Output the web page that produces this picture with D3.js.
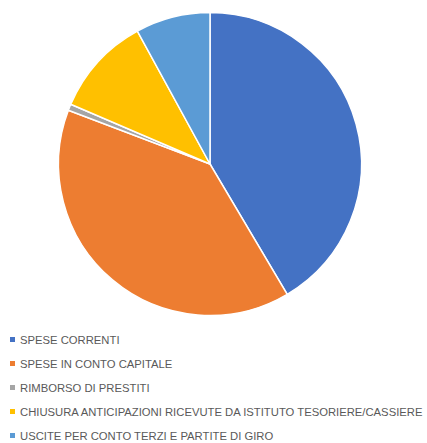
<!DOCTYPE html>
<html><head><meta charset="utf-8">
<script src="https://cdn.jsdelivr.net/npm/d3@7"></script>
<style>body{margin:0;background:#fff}</style>
</head><body>
<svg id="c" width="427" height="443"></svg>
<script>
const categories = ["SPESE CORRENTI","SPESE IN CONTO CAPITALE","RIMBORSO DI PRESTITI","CHIUSURA ANTICIPAZIONI RICEVUTE DA ISTITUTO TESORIERE/CASSIERE","USCITE PER CONTO TERZI E PARTITE DI GIRO"];
const values = [41.5, 39.3, 0.67, 10.6, 7.96];
const colors = ["#4472C4","#ED7D31","#A5A5A5","#FFC000","#5B9BD5"];

const svg = d3.select("#c");
const cx = 210, cy = 164, r = 151.5;
const pie = d3.pie().sort(null).value(d => d)(values);
const arc = d3.arc().innerRadius(0).outerRadius(r);
svg.append("g").attr("transform", `translate(${cx},${cy})`)
  .selectAll("path").data(pie).join("path")
  .attr("d", arc).attr("fill", (d,i) => colors[i])
  .attr("stroke", "#fff").attr("stroke-width", 1.5);

const y = d3.scalePoint().domain(categories).range([340, 436]);
const lg = svg.append("g").selectAll("g").data(categories).join("g")
  .attr("transform", d => `translate(0,${y(d)})`);
lg.append("rect").attr("x", 10).attr("y", -3).attr("width", 5).attr("height", 5)
  .attr("fill", (d,i) => colors[i]);
const texts = lg.append("text").attr("x", 0).attr("y", 0).attr("dy", "0.36em")
  .attr("font-family", "Liberation Sans, Arial, sans-serif").attr("font-size", 11)
  .attr("fill", "#595959").text(d => d);
let sx = 1;
texts.filter(d => d.startsWith("CHIUSURA")).each(function(){
  sx = 403 / this.getComputedTextLength();
});
texts.attr("transform", `translate(20,0) scale(${sx},1)`);
</script>
</body></html>
